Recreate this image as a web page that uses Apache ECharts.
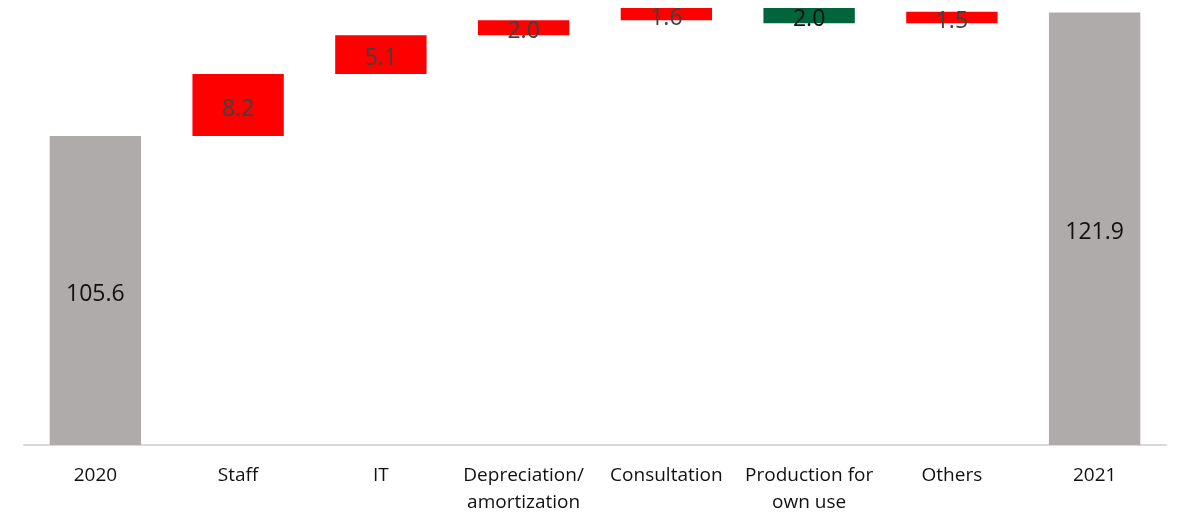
<!DOCTYPE html>
<html>
<head>
<meta charset="utf-8">
<script src="https://cdn.jsdelivr.net/npm/echarts@6/dist/echarts.min.js"></script>
<style>
  html, body { margin: 0; padding: 0; background: #ffffff; }
  #chart { width: 1181px; height: 514px; }
</style>
</head>
<body>
<div id="chart"></div>
<script>
// Cost bridge 2020 -> 2021
const categories = ['2020', 'Staff', 'IT', 'Depreciation/\namortization', 'Consultation', 'Production for\nown use', 'Others', '2021'];
// totals are absolute; the rest are changes (negative = decrease)
const values = [105.6, 8.2, 5.1, 2.0, 1.6, -2.0, 1.5, 121.9];
const kinds = ['total', 'delta', 'delta', 'delta', 'delta', 'delta', 'delta', 'total'];

const COLORS = { total: '#afabaa', up: '#ff0000', down: '#00643c' };

// invisible offsets and visible segments of the waterfall
const baseData = [];
const barData = [];
let running = 0;
values.forEach((v, i) => {
  if (kinds[i] === 'total') {
    running = v;
    baseData.push(0);
    barData.push({ value: v, label: v.toFixed(1), itemStyle: { color: COLORS.total }, labelColor: '#111111' });
  } else if (v >= 0) {
    baseData.push(running);
    barData.push({ value: v, label: v.toFixed(1), itemStyle: { color: COLORS.up }, labelColor: '#404040' });
    running += v;
  } else {
    running += v;
    baseData.push(running);
    barData.push({ value: -v, label: (-v).toFixed(1), itemStyle: { color: COLORS.down }, labelColor: '#111111' });
  }
});

const chart = echarts.init(document.getElementById('chart'), null, { renderer: 'canvas' });
chart.setOption({
  animation: false,
  grid: { left: 24, right: 15, top: 0, bottom: 69, containLabel: false, outerBoundsMode: 'none' },
  xAxis: {
    type: 'category',
    data: categories,
    axisLine: { show: true, onZero: false, lineStyle: { color: '#d9d9d9', width: 2 } },
    axisTick: { show: false },
    axisLabel: {
      color: '#111111',
      fontFamily: 'Open Sans',
      fontSize: 19,
      lineHeight: 27,
      margin: 17,
      interval: 0
    }
  },
  yAxis: {
    type: 'value',
    min: 64.8,
    max: 123.56,
    show: false,
    splitLine: { show: false }
  },
  series: [
    {
      type: 'bar',
      stack: 'w',
      barWidth: '64%',
      itemStyle: { color: 'transparent' },
      emphasis: { disabled: true },
      data: baseData
    },
    {
      type: 'bar',
      stack: 'w',
      barWidth: '64%',
      emphasis: { disabled: true },
      data: barData.map(d => ({
        value: d.value,
        itemStyle: d.itemStyle,
        label: {
          show: true,
          position: 'inside',
          offset: [0, 4],
          formatter: d.label,
          color: d.labelColor,
          fontFamily: 'Open Sans',
          fontSize: 23
        }
      }))
    }
  ]
});
</script>
</body>
</html>
